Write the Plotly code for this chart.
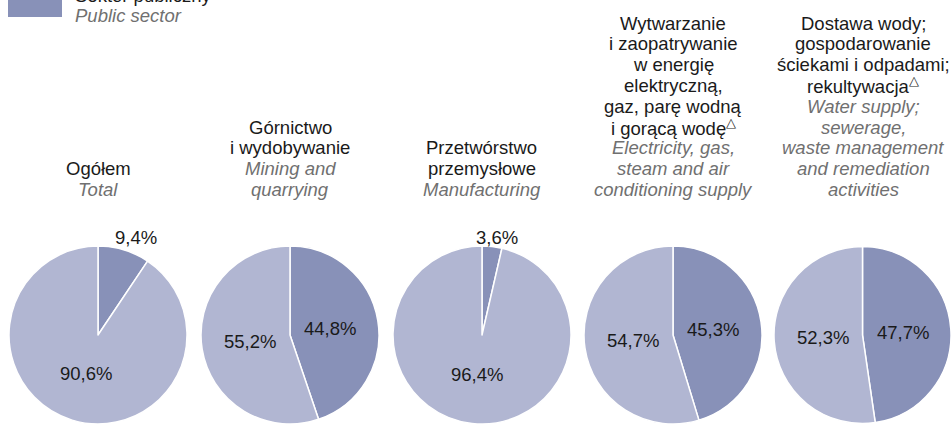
import math
import plotly.graph_objects as go

# chart data
titles_pl = [
    ["Ogółem"],
    ["Górnictwo", "i wydobywanie"],
    ["Przetwórstwo", "przemysłowe"],
    ["Wytwarzanie", "i zaopatrywanie", "w energię", "elektryczną,", "gaz, parę wodną",
     "i gorącą wodę<sup>△</sup>"],
    ["Dostawa wody;", "gospodarowanie", "ściekami i odpadami;", "rekultywacja<sup>△</sup>"],
]
titles_en = [
    ["Total"],
    ["Mining and", "quarrying"],
    ["Manufacturing"],
    ["Electricity, gas,", "steam and air", "conditioning supply"],
    ["Water supply;", "sewerage,", "waste management", "and remediation", "activities"],
]
sectors = ["Sektor publiczny", "Sektor prywatny"]
public_share = [9.4, 44.8, 3.6, 45.3, 47.7]
private_share = [90.6, 55.2, 96.4, 54.7, 52.3]

W, H = 951, 424
DARK = "#8891b8"
LIGHT = "#b1b6d2"
FONT = "Liberation Sans, Arial, sans-serif"
TXT = "#1a1a1a"
GREY = "#707070"
FS = 18.5

centers_x = [98, 290, 482, 673, 863]   # pixel centres of the pies
CY, R = 335, 89
LINE = 20.8
TITLE_BOTTOM = 189.5


def px(x, y):
    return x / W, 1 - y / H


fig = go.Figure()
annotations = []

for i, cx in enumerate(centers_x):
    vals = [public_share[i], private_share[i]]
    fig.add_trace(go.Pie(
        labels=sectors,
        values=vals,
        sort=False,
        direction="clockwise",
        rotation=0,
        marker=dict(colors=[DARK, LIGHT], line=dict(color="white", width=1.5)),
        textinfo="none",
        showlegend=False,
        hoverinfo="label+value",
        domain=dict(x=[(cx - R) / W, min(1, (cx + R) / W)],
                    y=[(H - CY - R) / H, (H - CY + R) / H]),
    ))

    # percentage labels
    start = 0.0
    for v in vals:
        mid = math.radians((start + v / 2) * 3.6)
        start += v
        if v < 12:
            lx = cx + 1.45 * R * math.sin(mid)
            ly = CY - R - 9
        else:
            lx = cx + 0.45 * R * math.sin(mid)
            ly = CY - 0.45 * R * math.cos(mid)
        x, y = px(lx, ly)
        annotations.append(dict(
            x=x, y=y, xref="paper", yref="paper", xanchor="center", yanchor="middle",
            showarrow=False, text=f"{v:.1f}%".replace(".", ","),
            font=dict(size=FS, family=FONT, color=TXT),
        ))

    # titles
    lines = [(t, False) for t in titles_pl[i]] + [(t, True) for t in titles_en[i]]
    n = len(lines)
    for k, (txt, en) in enumerate(lines):
        x, y = px(cx, TITLE_BOTTOM - (n - 1 - k) * LINE)
        annotations.append(dict(
            x=x, y=y, xref="paper", yref="paper",
            xanchor="center", yanchor="middle", showarrow=False,
            text=f"<i>{txt}</i>" if en else txt,
            font=dict(size=FS, family=FONT, color=GREY if en else TXT),
        ))

# legend (only the lower part of it is visible)
for txt, yy, col in [("Sektor publiczny", 16 - LINE, TXT), ("<i>Public sector</i>", 16, GREY)]:
    x, y = px(73, yy)
    annotations.append(dict(x=x, y=y, xref="paper", yref="paper",
                            xanchor="left", yanchor="middle", showarrow=False,
                            text=txt, font=dict(size=FS, family=FONT, color=col)))

fig.update_layout(
    width=W, height=H,
    margin=dict(l=0, r=0, t=0, b=0),
    paper_bgcolor="white",
    font=dict(family=FONT),
    annotations=annotations,
    shapes=[dict(type="rect", xref="paper", yref="paper",
                 x0=8 / W, x1=62 / W, y0=1 - 17 / H, y1=1.05,
                 fillcolor=DARK, line=dict(width=0))],
)

fig.write_html("out.html", config={"displayModeBar": False},
               post_script="document.body.style.margin='0';")
